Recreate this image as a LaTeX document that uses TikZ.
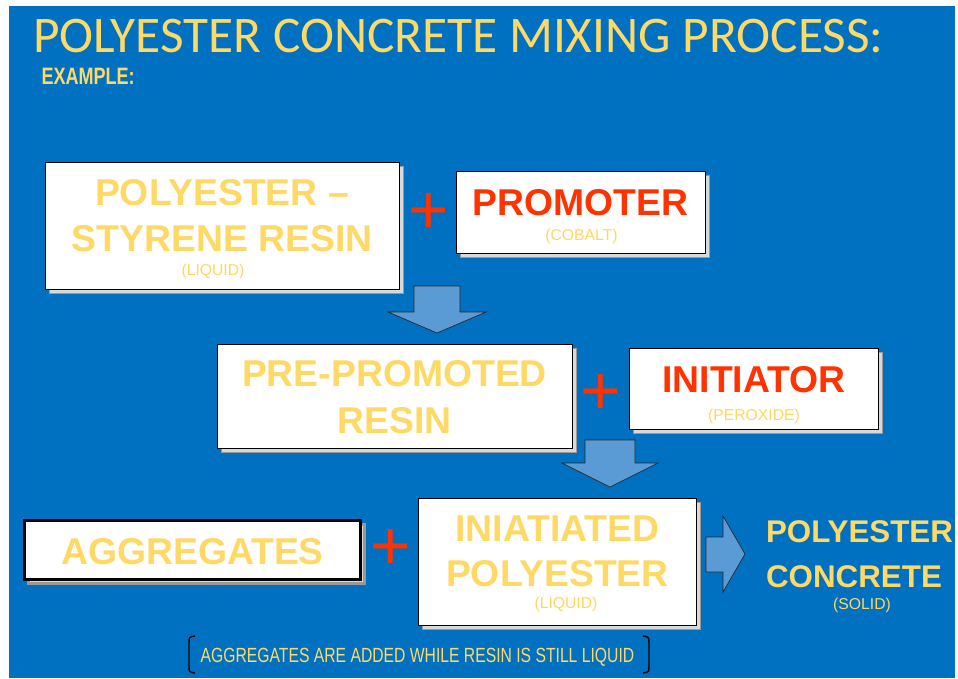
\documentclass[tikz,border=0pt]{standalone}
\usepackage{fontspec}
\setmainfont{Liberation Sans}
\newfontfamily\titlefont{Carlito}
\usetikzlibrary{shadows}

\definecolor{slideblue}{HTML}{0070C0}
\definecolor{txtyellow}{HTML}{FFD966}
\definecolor{subyellow}{HTML}{FFD75E}
\definecolor{plusred}{HTML}{FF3300}
\definecolor{arrowblue}{HTML}{5B9BD5}

\tikzset{
  card/.style={draw=black, line width=0.6pt, fill=white,
    drop shadow={shadow xshift=3pt, shadow yshift=-3pt, fill=gray!30, draw=gray!80, opacity=1}},
  bigtxt/.style={anchor=base, text=txtyellow, font=\bfseries\fontsize{28}{30}\selectfont},
  redtxt/.style={anchor=base, text=plusred, font=\bfseries\fontsize{28}{30}\selectfont},
  subtxt/.style={anchor=base, text=subyellow, font=\fontsize{11.8}{13}\selectfont},
  endtxt/.style={anchor=base, text=txtyellow, font=\bfseries\fontsize{23.5}{25}\selectfont},
  plussign/.style={text=plusred, font=\fontsize{52}{52}\selectfont},
  blockarrow/.style={fill=arrowblue, draw=black!85, line width=0.5pt, line join=miter},
}

\begin{document}
\begin{tikzpicture}[x=0.75pt,y=0.75pt,yscale=-1,xscale=1,every node/.style={inner sep=0pt,outer sep=0pt}]
			\useasboundingbox (0,0) rectangle (958,679);
			\fill[slideblue] (9,6) rectangle (955,678);
			
			% heading
			\node[anchor=base west, text=txtyellow, font=\titlefont\fontsize{38.5}{40}\selectfont] (title) at (33,52) {POLYESTER CONCRETE MIXING PROCESS:};
			\node[anchor=base west, text=txtyellow, font=\bfseries\fontsize{17.8}{20}\selectfont] (example) at (41.5,84) {\scalebox{0.76}[1]{EXAMPLE:}};
			
			% boxes
			\node[card, minimum width=265.5pt, minimum height=95.25pt] (resin) at (222,225.5) {};
			\node[card, minimum width=186.75pt, minimum height=61.5pt] (promoter) at (580.5,212) {};
			\node[card, minimum width=266.25pt, minimum height=78pt] (prepromoted) at (394.5,396) {};
			\node[card, minimum width=186.75pt, minimum height=60.75pt] (initiator) at (754,388.5) {};
			\node[card, line width=2.25pt, minimum width=252pt, minimum height=44.25pt] (aggregates) at (192.5,550) {};
			\node[card, minimum width=208.5pt, minimum height=95.8pt] (initiated) at (557.4,561.85) {};
			
			% box texts
			\node[bigtxt] (resinA) at (222,205) {POLYESTER --};
			\node[bigtxt] (resinB) at (222,251.7) {STYRENE RESIN};
			\node[subtxt] (resinC) at (213,275) {(LIQUID)};
			\node[redtxt] (promoterA) at (580.5,215) {PROMOTER};
			\node[subtxt] (promoterB) at (581.5,240) {(COBALT)};
			\node[bigtxt] (prepromotedA) at (394.5,386) {PRE-PROMOTED};
			\node[bigtxt] (prepromotedB) at (394.5,433) {RESIN};
			\node[redtxt] (initiatorA) at (754,392.7) {INITIATOR};
			\node[subtxt] (initiatorB) at (754,420) {(PEROXIDE)};
			\node[bigtxt] (aggregatesA) at (192.5,564) {AGGREGATES};
			\node[bigtxt] (initiatedA) at (557.4,541.7) {INIATIATED};
			\node[bigtxt] (initiatedB) at (557.4,586.7) {POLYESTER};
			\node[subtxt] (initiatedC) at (566,608) {(LIQUID)};
			
			% plus signs
			\node[plussign] (plusA) at (428.7,213) {+};
			\node[plussign] (plusB) at (600.4,394.7) {+};
			\node[plussign] (plusC) at (391,549.7) {+};
			
			% block arrows
			\draw[blockarrow] (414,286) -- (460,286) -- (460,312) -- (486,312) -- (437,333) -- (388,312) -- (414,312) -- cycle;
			\draw[blockarrow] (585,440) -- (635,440) -- (635,463) -- (658,463) -- (610,487) -- (562,463) -- (585,463) -- cycle;
			\draw[blockarrow] (706,537) -- (723,537) -- (723,516) -- (745,554) -- (723,592) -- (723,572) -- (706,572) -- cycle;
			
			% result
			\node[endtxt] (productA) at (859.5,542) {POLYESTER};
			\node[endtxt] (productB) at (854,587) {CONCRETE};
			\node[subtxt] (productC) at (862,609) {(SOLID)};
			
			% note with brackets
			\node[anchor=base west, text=txtyellow, font=\fontsize{15.4}{17}\selectfont] (note) at (200.7,662) {\scalebox{0.765}[1]{AGGREGATES ARE ADDED WHILE RESIN IS STILL LIQUID}};
			\draw[line width=1.1pt] (195,636) .. controls (189,637) .. (189,643) -- (189,666) .. controls (189,672) .. (195,673);
			\draw[line width=1.1pt] (643,636) .. controls (649,637) .. (649,643) -- (649,666) .. controls (649,672) .. (643,673);
			\end{tikzpicture}
\end{document}
